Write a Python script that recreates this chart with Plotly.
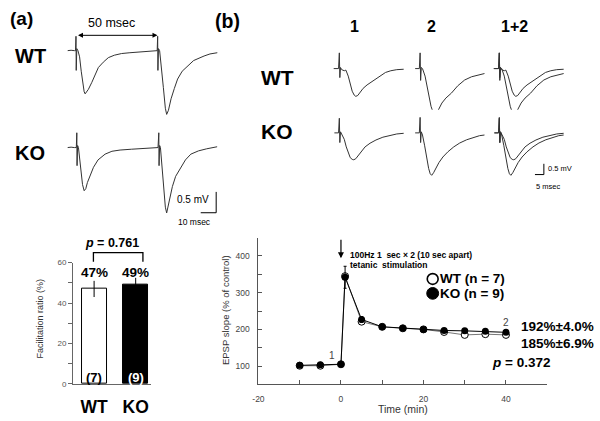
import plotly.graph_objects as go

W, H = 600, 421
FONT = "Liberation Sans"

# ---------------- data ----------------
# (a) paired-pulse facilitation
groups = ["WT", "KO"]
facilitation = [47, 49]
facilitation_sem = [4, 3.5]
n_cells = [7, 9]
pp_p_value = "0.761"

# (a) example paired-pulse traces (time in ms, potential in mV)
pp_wt_t = [-5.2, -3, -1, -0.3, 0, 0.15, 0.5, 1.2, 2.2, 3.2, 4.2, 5.0, 5.6, 6.4, 7.6, 9.7, 11.7,
           13.7, 16.7, 19.8, 23.5, 27.9, 33, 37.9, 43, 49.1, 49.7, 50, 50.15, 50.5, 51.2, 52.2,
           53.5, 54.7, 55.5, 56.6, 58.2, 60.2, 62.2, 65, 68.2, 72, 78.4, 82, 86.5]
pp_wt_mv = [0, 0.01, 0, 0, 0.35, -0.48, 0.05, 0, -0.15, -0.5, -0.85, -1.0, -1.05, -1.0, -0.94,
            -0.77, -0.57, -0.41, -0.28, -0.17, -0.11, -0.07, -0.05, -0.04, -0.02, -0.01, 0,
            0.35, -0.48, 0.05, 0, -0.35, -0.9, -1.4, -1.55, -1.45, -1.17, -0.92, -0.69, -0.5,
            -0.37, -0.24, -0.13, -0.08, -0.05]
pp_ko_t = [-5.2, -3, -1, 0.2, 0.5, 0.65, 1.0, 1.5, 2.0, 3.0, 4.0, 5.0, 6.0, 7.0, 8.5, 10.7, 13.5,
           17.8, 22, 27, 33.9, 40, 45, 50.2, 50.7, 50.85, 51.2, 51.7, 52.5, 53.7, 54.7, 55.5,
           57, 59, 61, 64.2, 67, 70.3, 75, 80, 86.4]
pp_ko_mv = [0, 0.01, 0, 0, 0.36, -0.44, 0.05, 0, -0.2, -0.55, -0.9, -1.05, -1.0, -0.85, -0.68,
            -0.48, -0.3, -0.16, -0.09, -0.06, -0.04, -0.02, -0.01, 0, 0.36, -0.44, 0.05, 0,
            -0.4, -1.0, -1.45, -1.59, -1.3, -0.95, -0.7, -0.48, -0.3, -0.16, -0.08, -0.03, 0.02]

# (b) LTP time course (EPSP slope, % of control)
time_min = [-10, -5, 0, 1, 5, 10, 15, 20, 25, 30, 35, 40]
wt_slope = [101, 101, 105, 345, 221, 207, 203, 200, 193, 185, 187, 185]
ko_slope = [102, 104, 105, 342, 227, 207, 203, 200, 197, 196, 195, 192]
ko_slope_sem = [3, 3, 3, 30, 8, 5, 4, 4, 4, 4, 4, 4]
wt_label = "WT (n = 7)"
ko_label = "KO (n = 9)"
wt_final = "185%±6.9%"
ko_final = "192%±4.0%"
ltp_p_value = "0.372"

# (b) example EPSP traces before (1) and after (2) tetanus (ms, mV)
wt1_t = [-2.85, -0.4, 0, 0.25, 0.6, 1.2, 2.5, 3.3, 4.5, 5.5, 6.5, 7.5, 8.3, 9.3, 10.5, 12, 14,
         16.7, 19, 21, 23.3, 26, 29, 32.5]
wt1_mv = [0, 0, 0.73, -0.42, 0.05, -0.05, -0.1, -0.07, -0.35, -0.75, -1.05, -1.23, -1.29,
          -1.25, -1.1, -0.92, -0.76, -0.6, -0.47, -0.32, -0.18, -0.1, -0.05, -0.03]
wt2_t = [-2.5, -0.4, 0, 0.25, 0.6, 1.2, 2.5, 3.5, 4.5, 5.5, 6.5, 7.5, 8.5, 9.5, 11, 13, 15.8,
         19, 22.5, 26, 29, 32.5]
wt2_mv = [0, 0, 0.73, -0.55, 0.05, 0, -0.35, -0.85, -1.35, -1.75, -2.02, -2.12, -2.05, -1.85,
          -1.6, -1.37, -1.14, -0.8, -0.53, -0.38, -0.3, -0.23]
ko1_t = [-2.5, -0.4, 0, 0.25, 0.6, 1.2, 2.5, 3.5, 4.5, 5.5, 6.5, 7.3, 8.3, 9.5, 11, 13, 15.5,
         18.5, 22, 26, 29, 32.5]
ko1_mv = [0, 0, 0.68, -0.45, 0.05, -0.05, -0.3, -0.65, -0.95, -1.15, -1.23, -1.25, -1.2, -1.05,
          -0.85, -0.65, -0.48, -0.33, -0.2, -0.1, -0.05, -0.02]
ko2_t = [-2.5, -0.4, 0, 0.25, 0.6, 1.2, 2.3, 3.3, 4.3, 5.1, 5.85, 6.8, 8, 9.5, 11.5, 14, 17, 20,
         23.5, 27, 30, 32.5]
ko2_mv = [0, 0, 0.72, -0.45, 0.05, -0.1, -0.6, -1.2, -1.65, -1.9, -1.97, -1.85, -1.62, -1.38,
          -1.12, -0.88, -0.65, -0.47, -0.32, -0.2, -0.13, -0.1]
column_titles = ["1", "2", "1+2"]


def px(x):
    return x / W


def py(y):
    return 1 - y / H


TRACE_COLOR = "#333333"
fig = go.Figure()

# ---------------- bar chart ----------------
fig.add_trace(go.Bar(
    x=groups, y=facilitation, width=0.6,
    marker=dict(color=["white", "black"], line=dict(color="black", width=1)),
    error_y=dict(type="data", array=facilitation_sem, color="black", thickness=1, width=0),
    xaxis="x", yaxis="y", showlegend=False, hoverinfo="skip"))

# ---------------- LTP time course ----------------
fig.add_trace(go.Scatter(
    x=time_min, y=wt_slope, mode="lines+markers", xaxis="x2", yaxis="y2",
    line=dict(color="#777777", width=1),
    marker=dict(size=7, color="white", line=dict(color="black", width=1)),
    showlegend=False, hoverinfo="skip"))
fig.add_trace(go.Scatter(
    x=time_min, y=ko_slope, mode="lines+markers", xaxis="x2", yaxis="y2",
    line=dict(color="black", width=1),
    marker=dict(size=7, color="black"),
    error_y=dict(type="data", array=ko_slope_sem, color="black", thickness=1, width=1.5),
    showlegend=False, hoverinfo="skip"))

# ---------------- (a) traces ----------------
line = dict(color=TRACE_COLOR, width=1)
fig.add_trace(go.Scatter(x=pp_wt_t, y=pp_wt_mv, mode="lines", line=line, xaxis="x3", yaxis="y3",
                         showlegend=False, hoverinfo="skip"))
fig.add_trace(go.Scatter(x=pp_ko_t, y=pp_ko_mv, mode="lines", line=line, xaxis="x3", yaxis="y4",
                         showlegend=False, hoverinfo="skip"))

# ---------------- (b) traces ----------------
panels = [
    ("x5", "y5", [(wt1_t, wt1_mv)]),
    ("x6", "y5", [(wt2_t, wt2_mv)]),
    ("x7", "y5", [(wt1_t, wt1_mv), (wt2_t, wt2_mv)]),
    ("x5", "y6", [(ko1_t, ko1_mv)]),
    ("x6", "y6", [(ko2_t, ko2_mv)]),
    ("x7", "y6", [(ko1_t, ko1_mv), (ko2_t, ko2_mv)]),
]
for xa, ya, series in panels:
    for t, v in series:
        fig.add_trace(go.Scatter(x=t, y=v, mode="lines", line=line, xaxis=xa, yaxis=ya,
                                 showlegend=False, hoverinfo="skip"))

hidden = dict(visible=False, fixedrange=True)

fig.update_layout(
    width=W, height=H, margin=dict(l=0, r=0, t=0, b=0),
    paper_bgcolor="white", plot_bgcolor="white",
    font=dict(family=FONT, color="black"),
    bargap=0,
    xaxis=dict(domain=[px(67.7), px(146.7)], anchor="y", range=[-0.507, 1.374],
               showline=True, linecolor="#666", linewidth=1, ticks="",
               tickfont=dict(size=17.5, color="black", family=FONT, weight="bold"),
               ticklabelstandoff=7, showgrid=False, zeroline=False),
    yaxis=dict(domain=[py(388.3), py(264.3)], anchor="x", range=[0, 60],
               tickvals=[0, 10, 20, 30, 40, 50, 60], ticktext=["0", "", "20", "", "40", "", "60"],
               ticks="outside", ticklen=4, tickcolor="#666", showline=True, linecolor="#666",
               tickfont=dict(size=8, color="#555"), showgrid=False, zeroline=False),
    xaxis2=dict(domain=[px(255), px(546.7)], anchor="y2", range=[-20, 50],
                tickvals=[-20, -10, 0, 10, 20, 30, 40, 50],
                ticktext=["-20", "", "0", "", "20", "", "40", ""],
                ticks="inside", ticklen=4, tickcolor="#555", showline=True, linecolor="#555",
                tickfont=dict(size=8.5, color="#444"), ticklabelstandoff=6,
                showgrid=False, zeroline=False),
    yaxis2=dict(domain=[py(388.75), py(238.75)], anchor="x2", range=[50, 450],
                tickvals=[100, 150, 200, 250, 300, 350, 400],
                ticktext=["100", "", "200", "", "300", "", "400"],
                ticks="inside", ticklen=4, tickcolor="#555", showline=True, linecolor="#555",
                tickfont=dict(size=8.5, color="#444"), ticklabelstandoff=6,
                showgrid=False, zeroline=False),
    xaxis3=dict(domain=[px(62), px(215)], anchor="y3", range=[-5.27, 87.45], **hidden),
    yaxis3=dict(domain=[py(120), py(25)], anchor="x3", range=[-1.721, 0.540], **hidden),
    yaxis4=dict(domain=[py(225), py(120)], anchor="x3", range=[-1.864, 0.636], **hidden),
    xaxis5=dict(domain=[px(330), px(405)], anchor="y5", range=[-3.35, 34.15], **hidden),
    xaxis6=dict(domain=[px(410), px(488)], anchor="y5", range=[-4.15, 34.85], **hidden),
    xaxis7=dict(domain=[px(490), px(568)], anchor="y5", range=[-4.15, 34.85], **hidden),
    yaxis5=dict(domain=[py(120), py(40)], anchor="x5", range=[-2.455, 1.182], **hidden),
    yaxis6=dict(domain=[py(188), py(108)], anchor="x5", range=[-2.559, 1.077], **hidden),
)

ann = []
shapes = []


def text(x, y, s, size, bold=False, color="black", xanchor="center", angle=0):
    ann.append(dict(x=px(x), y=py(y), xref="paper", yref="paper", text=s, showarrow=False,
                    xanchor=xanchor, yanchor="middle", textangle=angle, borderpad=0,
                    font=dict(size=size, color=color, family=FONT,
                              weight="bold" if bold else "normal")))


def seg(x0, y0, x1, y1, color="black", width=1):
    shapes.append(dict(type="line", xref="paper", yref="paper", x0=px(x0), y0=py(y0),
                       x1=px(x1), y1=py(y1), line=dict(color=color, width=width)))


# panel labels
text(15.5, 15, "(a)", 19, True)
text(224, 17, "(b)", 19.5, True)
text(24.5, 53, "WT", 20, True)
text(24, 152, "KO", 20, True)
text(274, 75, "WT", 21, True)
text(273.5, 130, "KO", 21, True)
for cx, t in zip([351.7, 430, 513.3], column_titles):
    text(cx, 23.3, t, 16, True)

# 50 msec double arrow
text(107, 19.5, "50 msec", 12.5)
ann.append(dict(x=px(153), y=py(32), xref="paper", yref="paper", ax=-81, ay=0, text="",
                showarrow=True, arrowside="end+start", arrowhead=2, arrowsize=1,
                arrowwidth=1, arrowcolor="black"))

# scale bars
seg(212.3, 192, 212.3, 213.3)
seg(196.7, 213.3, 212.3, 213.3)
text(189, 200, "0.5 mV", 10)
text(190, 222.3, "10 msec", 8.5)
seg(543.3, 163.3, 543.3, 174.3)
seg(534.3, 174.3, 543.3, 174.3)
text(546.7, 168.3, "0.5 mV", 7.5, xanchor="left")
text(547.5, 186.7, "5 msec", 7.5)

# bar chart annotations
text(34, 321.7, "Facilitation ratio (%)", 9, color="#333", angle=-90)
for g, v in zip(groups, facilitation):
    ann.append(dict(x=g, y=55, xref="x", yref="y", text=f"{v}%", showarrow=False,
                    yanchor="middle", font=dict(size=13.5, family=FONT, weight="bold")))
for g, n, c in zip(groups, n_cells, ["black", "white"]):
    ann.append(dict(x=g, y=py(381.7), xref="x", yref="paper", text=f"({n})", showarrow=False,
                    yanchor="middle", font=dict(size=13, family=FONT, weight="bold", color=c)))
shapes.append(dict(type="path", xref="paper", yref="paper",
                   path=f"M {px(88.3)} {py(263.3)} L {px(88.3)} {py(254)} L {px(138.3)} {py(254)} "
                        f"L {px(138.3)} {py(263.3)}",
                   line=dict(color="black", width=1.3)))
text(107, 244.5, f"<i>p</i> = {pp_p_value}", 12.5, True)

# LTP annotations
text(222, 313, "EPSP slope (% of control)", 9.5, color="#333", angle=-90)
text(401, 414, "Time (min)", 10.5, color="#333")
ann.append(dict(x=0, y=394, xref="x2", yref="y2", ax=0, ay=-20, text="", showarrow=True,
                arrowhead=2, arrowsize=1, arrowwidth=1.2, arrowcolor="black"))
text(346, 256, "100Hz 1  sec × 2 (10 sec apart)", 8.5, True, xanchor="left")
text(346, 266.7, "tetanic  stimulation", 8.5, True, xanchor="left")
ann.append(dict(x=-2.1, y=129, xref="x2", yref="y2", text="1", showarrow=False,
                font=dict(size=10, color="#444", family=FONT)))
ann.append(dict(x=40, y=218, xref="x2", yref="y2", text="2", showarrow=False,
                font=dict(size=10, color="#444", family=FONT)))
# legend
shapes.append(dict(type="circle", xref="paper", yref="paper", x0=px(425.5), x1=px(436.5),
                   y0=py(286.5), y1=py(275.5), line=dict(color="black", width=1.6),
                   fillcolor="white"))
shapes.append(dict(type="circle", xref="paper", yref="paper", x0=px(425), x1=px(437),
                   y0=py(301.7), y1=py(289.7), line=dict(color="black", width=1),
                   fillcolor="black"))
text(437, 281, wt_label, 13.5, True, xanchor="left")
text(437, 295.7, ko_label, 13.5, True, xanchor="left")
text(519, 329.3, ko_final, 13.5, True, xanchor="left")
text(519, 347.3, wt_final, 13.5, True, xanchor="left")
text(490, 366.7, f"<i>p</i> = {ltp_p_value}", 13.5, True, xanchor="left")

fig.update_layout(annotations=ann, shapes=shapes)
fig.write_html("out.html", config={"displayModeBar": False},
               post_script="document.body.style.margin='0px';")
